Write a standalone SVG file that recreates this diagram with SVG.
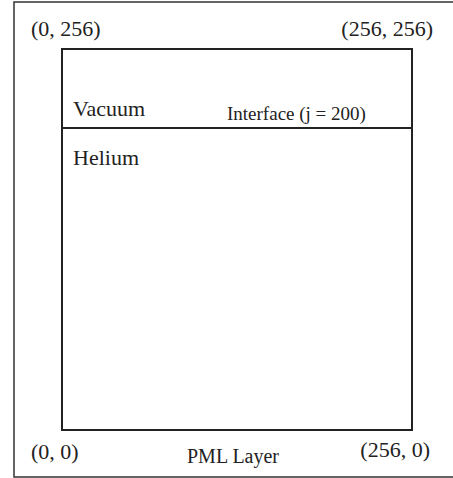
<svg xmlns="http://www.w3.org/2000/svg" width="453" height="478" viewBox="0 0 453 478">
<style>
.t{font-family:"Liberation Serif","Times New Roman",serif;fill:#222}
.frame{fill:none;stroke:#333;stroke-width:1.5}
.box{fill:none;stroke:#222;stroke-width:2}
</style>
<rect width="453" height="478" fill="#fff"/>
<g id="pml-layer">
<rect class="frame" x="14" y="2" width="460" height="475"/>
<text class="t" x="31" y="36" font-size="22">(0, 256)</text>
<text class="t" x="433" y="36" font-size="22" text-anchor="end">(256, 256)</text>
<text class="t" x="31" y="459" font-size="22">(0, 0)</text>
<text class="t" x="430" y="457" font-size="22" text-anchor="end">(256, 0)</text>
<text class="t" x="187" y="463" font-size="20">PML Layer</text>
</g>
<g id="domain">
<rect class="box" x="62" y="49" width="350" height="381"/>
</g>
<g id="connectors">
<line class="box" x1="62" y1="128" x2="412" y2="128"/>
</g>
<g id="vacuum">
<text class="t" x="73" y="116" font-size="22">Vacuum</text>
</g>
<g id="interface">
<text class="t" x="227" y="120" font-size="19">Interface (j = 200)</text>
</g>
<g id="helium">
<text class="t" x="73" y="165" font-size="22">Helium</text>
</g>
</svg>
